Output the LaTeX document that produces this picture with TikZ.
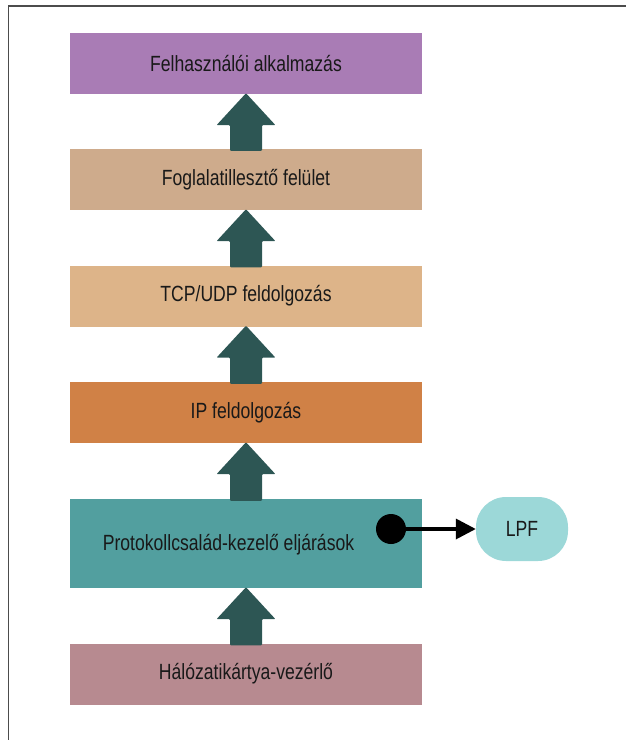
\documentclass[tikz,border=0pt]{standalone}
\usepackage{fontspec}
\setmainfont{Liberation Sans}[FakeStretch=0.8]
\usetikzlibrary{calc,arrows.meta}

\definecolor{appcol}{HTML}{A97CB5}
\definecolor{sockcol}{HTML}{CEAB8C}
\definecolor{tcpcol}{HTML}{DDB489}
\definecolor{ipcol}{HTML}{D08146}
\definecolor{protocol}{HTML}{529F9F}
\definecolor{niccol}{HTML}{B78A90}
\definecolor{lpfcol}{HTML}{9CD8D8}
\definecolor{arrowcol}{HTML}{2D5654}

% fat arrow from the top of #1 up to the bottom of #2
\newcommand{\fatarrow}[2]{%
\fill[arrowcol, rounded corners=1pt] let \p1=(#1.north), \p2=(#2.south) in
  (\x1-16pt,\y1-2pt) -- (\x1-16pt,\y2-31pt) -- (\x1-29.5pt,\y2-31pt) -- (\x1,\y2+1pt)
  -- (\x1+29.5pt,\y2-31pt) -- (\x1+16pt,\y2-31pt) -- (\x1+16pt,\y1-2pt) -- cycle;}

\begin{document}
\begin{tikzpicture}[x=1pt,y=-1pt,
  layer/.style={minimum width=352pt, minimum height=61pt, inner sep=0pt,
    text=black!90, font=\fontsize{22}{25}\selectfont}]
\useasboundingbox (0,0) rectangle (626,740);
% frame
\draw[line width=1.5pt, black!70] (626,6) -- (8.5,6) -- (8.5,740);
% layers
\node[layer, fill=appcol] (app) at (246,63.5) {Felhasználói alkalmazás};
\node[layer, fill=sockcol] (sock) at (246,179.5) {Foglalatillesztő felület};
\node[layer, fill=tcpcol] (tcp) at (246,296) {TCP/UDP feldolgozás};
\node[layer, fill=ipcol] (ip) at (246,412.5) {IP feldolgozás};
\node[layer, fill=protocol, minimum height=89pt] (proto) at (246,543.5) {};
\node[layer, minimum width=0pt, minimum height=0pt] (protolabel) at (228.5,545) {Protokollcsalád-kezelő eljárások};
\node[layer, fill=niccol] (nic) at (246,674) {Hálózatikártya-vezérlő};
% arrows between layers
\fatarrow{sock}{app}
\fatarrow{tcp}{sock}
\fatarrow{ip}{tcp}
\fatarrow{proto}{ip}
\fatarrow{nic}{proto}
% tap to the filter
\node[layer, fill=lpfcol, minimum width=92pt, minimum height=64pt, rounded corners=30pt] (lpf) at (522,529) {LPF};
\node[circle, fill=black, minimum size=30pt, inner sep=0pt] (tap) at (391,529) {};
\draw[line width=3.5pt, -{Triangle[length=20pt, width=20pt]}] (tap.center) -- (lpf.west);
\end{tikzpicture}
\end{document}
